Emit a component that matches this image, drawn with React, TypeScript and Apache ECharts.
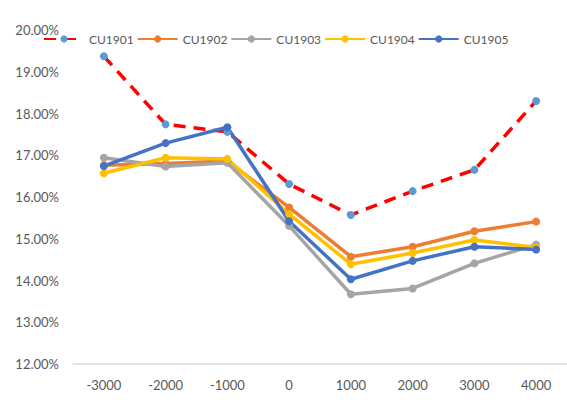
import React, { useEffect, useRef } from "react";
import * as echarts from "echarts";

const categories = ["-3000", "-2000", "-1000", "0", "1000", "2000", "3000", "4000"];
const cu1901 = [19.37, 17.74, 17.56, 16.31, 15.57, 16.14, 16.65, 18.3];
const cu1902 = [16.76, 16.8, 16.86, 15.75, 14.57, 14.81, 15.18, 15.41];
const cu1903 = [16.94, 16.73, 16.82, 15.31, 13.67, 13.81, 14.41, 14.86];
const cu1904 = [16.57, 16.94, 16.91, 15.59, 14.39, 14.66, 14.97, 14.79];
const cu1905 = [16.74, 17.29, 17.67, 15.42, 14.03, 14.47, 14.81, 14.74];
const yTicks = { min: 12, max: 20, interval: 1 };

const FONT = "Lato, 'Liberation Sans', sans-serif";
const TEXT = "#595959";

export default function App() {
  const ref = useRef<HTMLDivElement>(null);
  useEffect(() => {
    if (!ref.current) return;
    const chart = echarts.init(ref.current, undefined, { renderer: "svg" });
    const mk = (name: string, data: number[], lineColor: string, markColor: string, dashed = false) => ({
      name,
      type: "line",
      data,
      symbol: "circle",
      symbolSize: 8,
      showSymbol: true,
      lineStyle: dashed
        ? { color: lineColor, width: 3.5, type: [12, 8] }
        : { color: lineColor, width: 3.5 },
      itemStyle: { color: markColor },
    });
    chart.setOption({
      animation: false,
      textStyle: { fontFamily: FONT },
      legend: {
        top: 28,
        left: 38,
        itemWidth: 40,
        itemHeight: 9,
        itemGap: 3,
        textStyle: { color: TEXT, fontSize: 12, fontFamily: FONT },
        data: ["CU1901", "CU1902", "CU1903", "CU1904", "CU1905"],
      },
      grid: { left: 73, right: 0, top: 30, bottom: 36 },
      xAxis: {
        type: "category",
        data: categories,
        boundaryGap: true,
        axisLine: { lineStyle: { color: "#D9D9D9", width: 1.5 } },
        axisTick: { show: false },
        axisLabel: { color: TEXT, fontSize: 13, fontFamily: FONT, margin: 14 },
      },
      yAxis: {
        type: "value",
        min: yTicks.min,
        max: yTicks.max,
        interval: yTicks.interval,
        axisLine: { show: false },
        axisTick: { show: false },
        splitLine: { show: false },
        axisLabel: {
          color: TEXT,
          fontSize: 13,
          fontFamily: FONT,
          margin: 14,
          formatter: (v: number) => v.toFixed(2) + "%",
        },
      },
      series: [
        mk("CU1901", cu1901, "#FF0000", "#5B9BD5", true),
        mk("CU1902", cu1902, "#ED7D31", "#ED7D31"),
        mk("CU1903", cu1903, "#A5A5A5", "#A5A5A5"),
        mk("CU1904", cu1904, "#FFC000", "#FFC000"),
        mk("CU1905", cu1905, "#4472C4", "#4472C4"),
      ],
    });
    return () => chart.dispose();
  }, []);
  return <div ref={ref} style={{ width: 567, height: 400, position: "absolute", left: 0, top: 0, background: "#fff" }} />;
}
